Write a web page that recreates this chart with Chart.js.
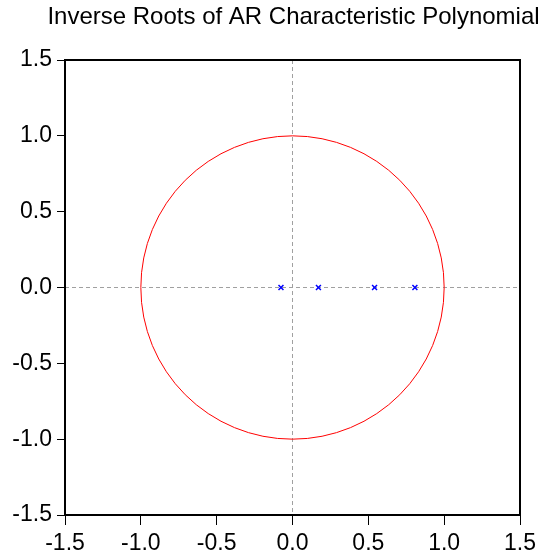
<!DOCTYPE html>
<html>
<head>
<meta charset="utf-8">
<script src="https://cdn.jsdelivr.net/npm/chart.js@4.4.0/dist/chart.umd.min.js"></script>
<style>
  body { margin: 0; background: #fff; }
  canvas { display: block; }
</style>
</head>
<body>
<canvas id="roots" width="545" height="560"></canvas>
<script>
const rootRe = [-0.076, 0.171, 0.541, 0.807];
const rootIm = [0, 0, 0, 0];
// Tick labels on both axes
const tickValues = [-1.5, -1.0, -0.5, 0.0, 0.5, 1.0, 1.5];
const unitRadius = 1;
const titleText = "Inverse Roots of AR Characteristic Polynomial";

const FONT = "'Liberation Sans', Arial, sans-serif";

// unit circle, box around the plot area, and the title (wider than the plot, so drawn by hand)
const framePlugin = {
  id: "frame",
  beforeDatasetsDraw(chart) {
    const { ctx, scales: { x, y } } = chart;
    const cx = x.getPixelForValue(0);
    const cy = y.getPixelForValue(0);
    const rx = x.getPixelForValue(unitRadius) - cx;
    const ry = cy - y.getPixelForValue(unitRadius);
    ctx.save();
    ctx.strokeStyle = "#ff0000";
    ctx.lineWidth = 1;
    ctx.beginPath();
    ctx.ellipse(cx, cy, rx, ry, 0, 0, Math.PI * 2);
    ctx.stroke();
    ctx.restore();
  },
  afterDraw(chart) {
    const { ctx, chartArea: a } = chart;
    ctx.save();
    ctx.strokeStyle = "#000";
    ctx.lineWidth = 2;
    ctx.strokeRect(a.left, a.top, a.right - a.left, a.bottom - a.top);

    ctx.fillStyle = "#000";
    ctx.font = "24px " + FONT;
    ctx.textAlign = "center";
    ctx.textBaseline = "alphabetic";
    ctx.fillText(titleText, (a.left + a.right) / 2 + 1, 24);
    ctx.restore();
  },
};

const zeroGrid = (ctx) => (ctx.tick && ctx.tick.value === 0 ? "#a0a0a0" : "rgba(0,0,0,0)");

new Chart(document.getElementById("roots"), {
  type: "scatter",
  data: {
    datasets: [{
      data: rootRe.map((re, i) => ({ x: re, y: rootIm[i] })),
      pointStyle: "crossRot",
      pointRadius: 3.5,
      pointBorderWidth: 1.5,
      borderColor: "#0000ff",
      backgroundColor: "#0000ff",
    }],
  },
  plugins: [framePlugin],
  options: {
    responsive: false,
    animation: false,
    layout: { padding: { top: 60, right: 25, left: 0, bottom: 0 } },
    plugins: {
      legend: { display: false },
      tooltip: { enabled: false },
      title: { display: false },
    },
    scales: {
      x: {
        type: "linear",
        min: -1.5,
        max: 1.5,
        afterBuildTicks: (s) => { s.ticks = tickValues.map((v) => ({ value: v })); },
        afterFit: (s) => { s.height = 45; },
        grid: { color: zeroGrid, tickColor: "#000", tickLength: 10, lineWidth: 1 },
        border: { display: false, dash: [4, 3] },
        ticks: {
          color: "#000",
          padding: 5,
          font: { family: FONT, size: 23 },
          callback: (v) => Number(v).toFixed(1),
        },
      },
      y: {
        type: "linear",
        min: -1.5,
        max: 1.5,
        afterBuildTicks: (s) => { s.ticks = tickValues.map((v) => ({ value: v })); },
        afterFit: (s) => { s.width = 65; },
        grid: { color: zeroGrid, tickColor: "#000", tickLength: 8, lineWidth: 1 },
        border: { display: false, dash: [4, 3] },
        ticks: {
          color: "#000",
          padding: 5,
          font: { family: FONT, size: 23 },
          callback: (v) => Number(v).toFixed(1),
        },
      },
    },
  },
});
</script>
</body>
</html>
